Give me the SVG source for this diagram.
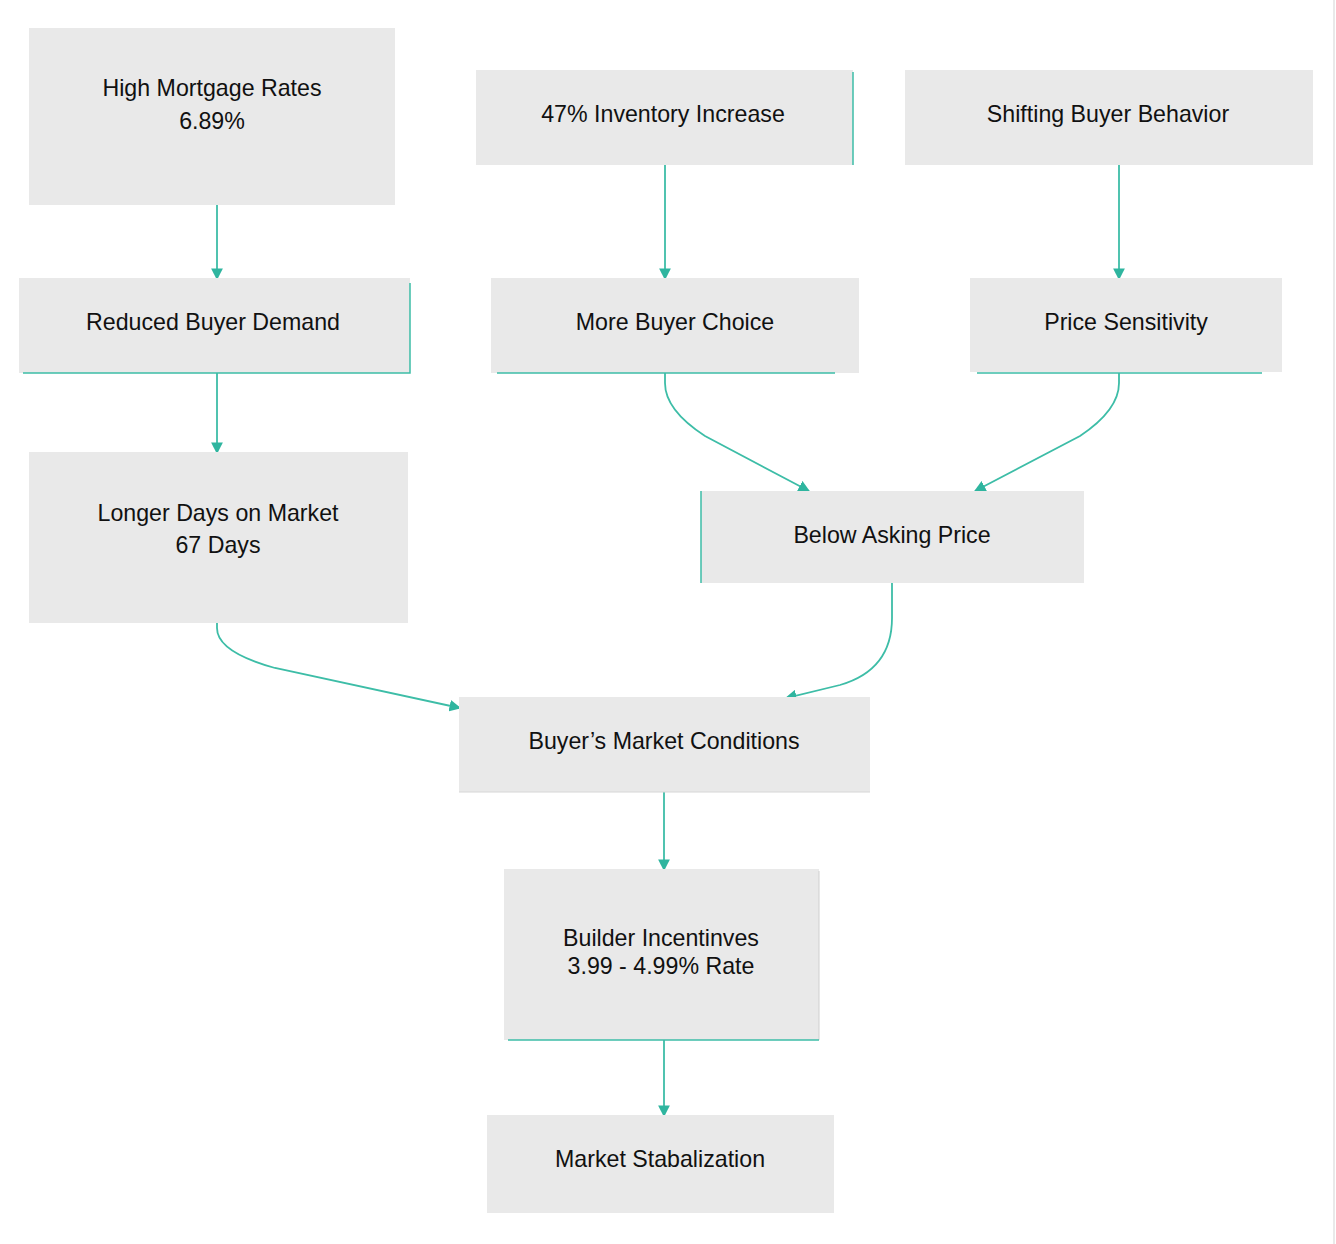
<svg xmlns="http://www.w3.org/2000/svg" width="1336" height="1244" viewBox="0 0 1336 1244">
<style>
.box{fill:#e9e9e9}
.t{font-family:"Liberation Sans",Arial,sans-serif;font-size:23.2px;fill:#111;text-anchor:middle}
.edge{fill:none;stroke:#3dbda7;stroke-width:1.8}
.bd{stroke:#3dbda7;stroke-width:1.5;fill:none}
</style>
<defs>
<marker id="ah" viewBox="0 0 10 10" refX="9" refY="5" markerWidth="6.5" markerHeight="6.5" orient="auto" markerUnits="strokeWidth">
<path d="M0,0 L10,5 L0,10 z" fill="#2fb59f"/>
</marker>
</defs>
<rect x="0" y="0" width="1336" height="1244" fill="#ffffff"/>
<line x1="1334" y1="0" x2="1334" y2="1244" stroke="#e2e2e2" stroke-width="1.5"/>
<g id="connectors">
<path class="edge" d="M217,205 L217,279" marker-end="url(#ah)"/>
<path class="edge" d="M217,373 L217,453" marker-end="url(#ah)"/>
<path class="edge" d="M665,165 L665,279" marker-end="url(#ah)"/>
<path class="edge" d="M1119,165 L1119,279" marker-end="url(#ah)"/>
<path class="edge" d="M665,373 L665,383 Q665,410 705,436 L809,491" marker-end="url(#ah)"/>
<path class="edge" d="M1119,373 L1119,383 Q1119,410 1080,436 L975,491" marker-end="url(#ah)"/>
<path class="edge" d="M217,623 L217,628 Q217,652 275,668 L460,708" marker-end="url(#ah)"/>
<path class="edge" d="M892,583 L892,618 Q892,670 840,685 L786,698" marker-end="url(#ah)"/>
<path class="edge" d="M664,792 L664,870" marker-end="url(#ah)"/>
<path class="edge" d="M664,1040 L664,1116" marker-end="url(#ah)"/>
</g>
<g id="n1"><rect class="box" x="29" y="28" width="366" height="177"/><text class="t" x="212" y="96">High Mortgage Rates</text><text class="t" x="212" y="129">6.89%</text></g>
<g id="n2"><rect class="box" x="19" y="278" width="391" height="95"/><path class="bd" d="M410,283 L410,373 L23,373"/><text class="t" x="213" y="330">Reduced Buyer Demand</text></g>
<g id="n3"><rect class="box" x="476" y="70" width="377" height="95"/><path class="bd" d="M853,72 L853,165"/><text class="t" x="663" y="122">47% Inventory Increase</text></g>
<g id="n4"><rect class="box" x="905" y="70" width="408" height="95"/><text class="t" x="1108" y="122">Shifting Buyer Behavior</text></g>
<g id="n5"><rect class="box" x="491" y="278" width="368" height="95"/><path class="bd" d="M497,373 L835,373"/><text class="t" x="675" y="330">More Buyer Choice</text></g>
<g id="n6"><rect class="box" x="970" y="278" width="312" height="94"/><path class="bd" d="M977,373 L1262,373"/><text class="t" x="1126" y="330">Price Sensitivity</text></g>
<g id="n7"><rect class="box" x="29" y="452" width="379" height="171"/><text class="t" x="218" y="521">Longer Days on Market</text><text class="t" x="218" y="553">67 Days</text></g>
<g id="n8"><rect class="box" x="701" y="491" width="383" height="92"/><path class="bd" d="M701,491 L701,583" stroke-width="1"/><text class="t" x="892" y="543">Below Asking Price</text></g>
<g id="n9"><rect class="box" x="459" y="697" width="411" height="95"/><path d="M459,792 L870,792" stroke="#d6d6d6" stroke-width="1"/><text class="t" x="664" y="749">Buyer’s Market Conditions</text></g>
<g id="n10"><rect class="box" x="504" y="869" width="315" height="171"/><path d="M819,871 L819,1040" stroke="#cfcfcf" stroke-width="1"/><path class="bd" d="M508,1040 L819,1040" stroke-width="1.2"/><text class="t" x="661" y="946">Builder Incentinves</text><text class="t" x="661" y="974">3.99 - 4.99% Rate</text></g>
<g id="n11"><rect class="box" x="487" y="1115" width="347" height="98"/><text class="t" x="660" y="1167">Market Stabalization</text></g>
</svg>
